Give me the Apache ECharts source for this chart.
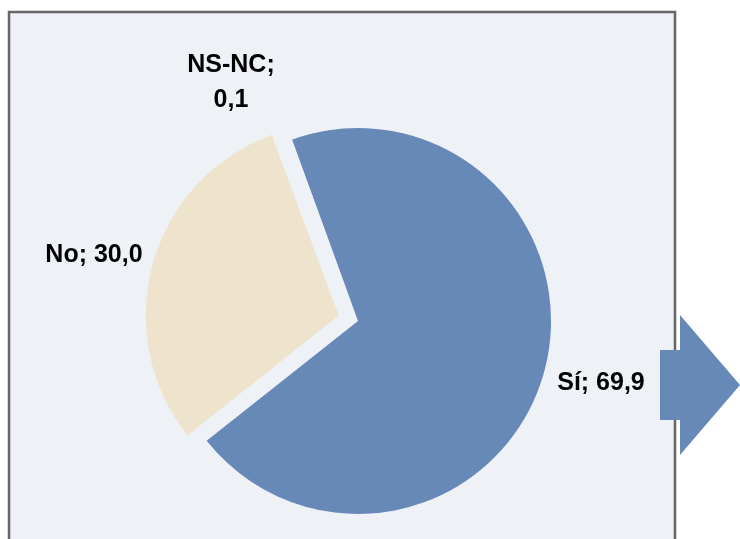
<!DOCTYPE html>
<html>
<head>
<meta charset="utf-8">
<script src="https://cdn.jsdelivr.net/npm/echarts@6/dist/echarts.min.js"></script>
<style>
  html, body { margin: 0; padding: 0; background: #fff; }
  #chart { width: 740px; height: 539px; }
</style>
</head>
<body>
<div id="chart"></div>
<script>
const names = ["Sí", "No", "NS-NC"];
const values = [69.9, 30.0, 0.1];
const colors = ["#6689B8", "#EEE4CD", "#EEF1F6"];
const exploded = [false, true, false];

// label anchor points (page px), one per slice
const labelPos = [[601, 383], [94, 255], [231, 83]];

const CENTER = [358, 321];
const START = 110;
const EXPLODE = 20;

function fmt(v) {
  return v.toFixed(1).replace(".", ",");
}

// pull exploded slices out along their mid angle
const total = values.reduce((a, b) => a + b, 0);
let acc = 0;
const offsets = values.map(v => {
  const mid = START - (acc + v / 2) / total * 360;
  acc += v;
  const r = mid * Math.PI / 180;
  return [Math.cos(r) * EXPLODE, -Math.sin(r) * EXPLODE];
});

function makeSeries(part) {
  const off = offsets[part];
  const ex = exploded[part];
  return {
    type: "pie",
    z: 10,
    silent: true,
    center: ex ? [CENTER[0] + off[0], CENTER[1] + off[1]] : CENTER,
    radius: 193,
    startAngle: START,
    clockwise: true,
    avoidLabelOverlap: false,
    emphasis: { disabled: true },
    itemStyle: { borderWidth: 0 },
    label: {
      color: "#000",
      fontFamily: "Liberation Sans, Arial, sans-serif",
      fontWeight: "bold",
      fontSize: 25,
      lineHeight: 35,
      align: "center",
      formatter: (p) => p.name === "NS-NC"
        ? `${p.name};\n${fmt(p.value)}`
        : `${p.name}; ${fmt(p.value)}`
    },
    labelLine: { show: false },
    labelLayout: (p) => ({
      x: labelPos[p.dataIndex][0],
      y: labelPos[p.dataIndex][1],
      align: "center",
      verticalAlign: "middle"
    }),
    data: names.map((n, i) => {
      const mine = ex ? i === part : !exploded[i];
      return {
        name: n,
        value: values[i],
        itemStyle: { color: mine ? colors[i] : "transparent" },
        label: { show: mine }
      };
    })
  };
}

const chart = echarts.init(document.getElementById("chart"));

chart.setOption({
  animation: false,
  backgroundColor: "#ffffff",
  graphic: [
    {
      type: "rect",
      z: 0,
      shape: { x: 9, y: 12, width: 666, height: 560 },
      style: { fill: "#EEF1F6", stroke: "#666666", lineWidth: 2.5 }
    },
    {
      type: "polygon",
      z: 100,
      shape: {
        points: [[660, 350], [680, 350], [680, 315], [740, 385], [680, 455], [680, 420], [660, 420]]
      },
      style: { fill: "#6689B8" }
    }
  ],
  series: [makeSeries(0), makeSeries(1)]
});
</script>
</body>
</html>
